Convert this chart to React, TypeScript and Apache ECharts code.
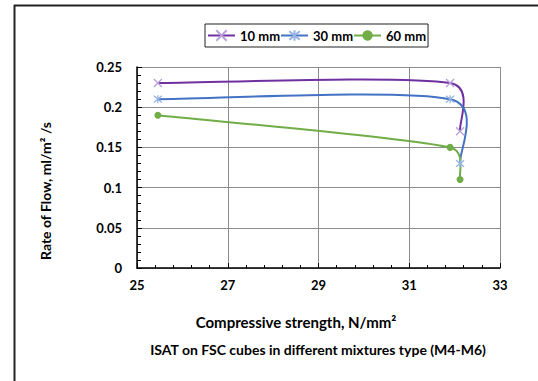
import React, { useEffect, useRef } from "react";
import * as echarts from "echarts";

// Compressive strength (N/mm²) and rate of flow (ml/m²/s) for each aggregate size
const strength10 = [25.46, 31.9, 32.12];
const flow10 = [0.23, 0.23, 0.17];
const strength30 = [25.46, 31.9, 32.12];
const flow30 = [0.21, 0.21, 0.13];
const strength60 = [25.46, 31.9, 32.12];
const flow60 = [0.19, 0.15, 0.11];

const seriesNames = ["10 mm", "30 mm", "60 mm"];
const lineColors = ["#7030a0", "#4472c4", "#70ad47"];
const markerColors = ["#b9a0dc", "#95b3e3", "#70ad47"];
const xTicks = [25, 27, 29, 31, 33];
const yTicks = [0, 0.05, 0.1, 0.15, 0.2, 0.25];

const FONT = "Lato";

const pairs = (xs: number[], ys: number[]) => xs.map((x, i) => [x, ys[i]]);

const crossPath = "path://M0,0L10,10M10,0L0,10";
const starPath = "path://M0,0L10,10M10,0L0,10M5,-1L5,11";

// Smoothed curve segment between point i and i+1: cubic Bézier whose
// control handles follow the neighbouring points (1/6 tension), each handle
// limited to half of the segment length.
function smoothSegment(xs: number[], ys: number[], color: string) {
  return (params: any, api: any) => {
    const i = params.dataIndex;
    const n = xs.length;
    if (i >= n - 1) return null;
    const pt = (k: number) => {
      const j = Math.max(0, Math.min(n - 1, k));
      return api.coord([xs[j], ys[j]]) as number[];
    };
    const p0 = pt(i - 1);
    const p1 = pt(i);
    const p2 = pt(i + 1);
    const p3 = pt(i + 2);
    const d12 = Math.hypot(p2[0] - p1[0], p2[1] - p1[1]);
    const handle = (a: number[], b: number[]) => {
      const vx = b[0] - a[0];
      const vy = b[1] - a[1];
      const len = Math.hypot(vx, vy);
      let f = 1 / 6;
      if (len * f > d12 / 2 && len > 0) f = d12 / 2 / len;
      return [vx * f, vy * f];
    };
    const h1 = handle(p0, p2);
    const h2 = handle(p1, p3);
    return {
      type: "bezierCurve",
      shape: {
        x1: p1[0],
        y1: p1[1],
        cpx1: p1[0] + h1[0],
        cpy1: p1[1] + h1[1],
        cpx2: p2[0] - h2[0],
        cpy2: p2[1] - h2[1],
        x2: p2[0],
        y2: p2[1],
      },
      style: { stroke: color, lineWidth: 2, fill: "none" },
    };
  };
}

export default function App() {
  const ref = useRef<HTMLDivElement>(null);

  useEffect(() => {
    if (!ref.current) return;
    const chart = echarts.init(ref.current, null, { renderer: "svg" });
    const axisLabel = {
      color: "#000",
      fontFamily: FONT,
      fontWeight: "bold" as const,
      fontSize: 13,
    };
    const sets = [
      { xs: strength10, ys: flow10, symbol: crossPath, size: 8 },
      { xs: strength30, ys: flow30, symbol: starPath, size: 8 },
      { xs: strength60, ys: flow60, symbol: "circle", size: 7 },
    ];
    const curves = sets.map((s, k) => ({
      id: "curve" + k,
      type: "custom",
      silent: true,
      renderItem: smoothSegment(s.xs, s.ys, lineColors[k]),
      data: pairs(s.xs, s.ys),
      encode: { x: 0, y: 1 },
    }));
    const markers = sets.map((s, k) => ({
      name: seriesNames[k],
      type: "line",
      data: pairs(s.xs, s.ys),
      symbol: s.symbol,
      symbolSize: s.size,
      lineStyle: { color: lineColors[k], width: 2, opacity: 0 },
      itemStyle: {
        color: markerColors[k],
        borderColor: markerColors[k],
        borderWidth: k < 2 ? 1.3 : 0,
      },
    }));
    chart.setOption({
      animation: false,
      backgroundColor: "#fff",
      grid: { left: 137, top: 67, width: 363, height: 201, containLabel: false },
      legend: {
        data: seriesNames.map((name, k) => ({
          name,
          lineStyle: { color: lineColors[k], width: 2, opacity: 1 },
        })),
        left: 205,
        top: 24,
        padding: [5, 2, 5, 2],
        itemGap: 0,
        itemWidth: 27,
        itemHeight: 13,
        borderColor: "#222",
        borderWidth: 1,
        textStyle: {
          color: "#000",
          fontFamily: FONT,
          fontWeight: "bold",
          fontSize: 13,
        },
      },
      xAxis: {
        type: "value",
        min: xTicks[0],
        max: xTicks[xTicks.length - 1],
        interval: 2,
        axisLine: { show: true, onZero: false, lineStyle: { color: "#000", width: 1.5 } },
        axisTick: { show: true, inside: true, length: 5, lineStyle: { color: "#000" } },
        minorTick: { show: true, splitNumber: 5, length: 3, lineStyle: { color: "#000" } },
        splitLine: { show: true, lineStyle: { color: "#8c8c8c", width: 1 } },
        axisLabel: { ...axisLabel, margin: 10 },
      },
      yAxis: {
        type: "value",
        min: yTicks[0],
        max: yTicks[yTicks.length - 1],
        interval: 0.05,
        axisLine: { show: true, onZero: false, lineStyle: { color: "#000", width: 1.5 } },
        axisTick: { show: true, inside: true, length: 5, lineStyle: { color: "#000" } },
        minorTick: { show: true, splitNumber: 5, length: 4, lineStyle: { color: "#000" } },
        splitLine: { show: true, lineStyle: { color: "#8c8c8c", width: 1 } },
        axisLabel: {
          ...axisLabel,
          margin: 15,
          formatter: (v: number) => String(Math.round(v * 100) / 100),
        },
      },
      series: [...curves, ...markers],
      graphic: [
        { type: "line", shape: { x1: 14, y1: 5.5, x2: 538, y2: 5.5 }, style: { stroke: "#222", lineWidth: 2 } },
        { type: "line", shape: { x1: 14.5, y1: 5, x2: 14.5, y2: 381 }, style: { stroke: "#222", lineWidth: 2 } },
        {
          type: "text",
          x: 45,
          y: 191,
          rotation: Math.PI / 2,
          style: {
            text: "Rate of Flow, ml/m² /s",
            fontFamily: FONT,
            fontWeight: "bold",
            fontSize: 14,
            fill: "#000",
            align: "center",
            verticalAlign: "middle",
          },
        },
        {
          type: "text",
          x: 296,
          y: 322,
          style: {
            text: "Compressive strength, N/mm²",
            fontFamily: FONT,
            fontWeight: "bold",
            fontSize: 15,
            fill: "#000",
            align: "center",
            verticalAlign: "middle",
          },
        },
        {
          type: "text",
          x: 318,
          y: 349,
          style: {
            text: "ISAT on FSC cubes in different mixtures type (M4-M6)",
            fontFamily: FONT,
            fontWeight: "bold",
            fontSize: 14,
            fill: "#000",
            align: "center",
            verticalAlign: "middle",
          },
        },
      ],
    });
    return () => chart.dispose();
  }, []);

  return (
    <div
      ref={ref}
      style={{ position: "fixed", left: 0, top: 0, width: 538, height: 381 }}
    />
  );
}
